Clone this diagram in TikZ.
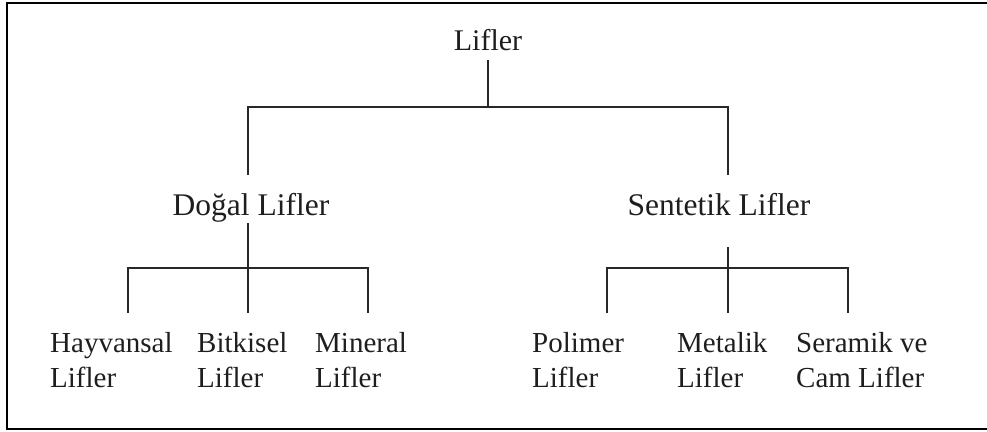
\documentclass[tikz,border=0pt]{standalone}
\usepackage{fontspec}
\setmainfont{Liberation Serif}
\definecolor{linegray}{RGB}{40, 40, 40}
\definecolor{textgray}{RGB}{30, 30, 30}
\tikzset{
    rootlabel/.style={anchor=base, inner sep=0pt, text=textgray,
        font=\fontsize{30}{36}\selectfont},
    midlabel/.style={anchor=base, inner sep=0pt, text=textgray,
        font=\fontsize{31.5}{38}\selectfont},
    leaflabel/.style={anchor=north west, inner sep=0pt, align=left,
        text=textgray, font=\fontsize{29}{35}\selectfont},
    treeline/.style={draw=linegray, line width=1.3pt},
}

\begin{document}
\begin{tikzpicture}[x=1pt, y=-1pt]
    \useasboundingbox (0, 0) rectangle (987, 431);
    \draw[line width=2pt] (7, 3) rectangle (989, 429);

    \node[rootlabel] (lifler) at (488, 50) {Lifler};
    \node[midlabel] (dogal) at (251, 215) {Doğal Lifler};
    \node[midlabel] (sentetik) at (719, 215) {Sentetik Lifler};

    \node[leaflabel] (hayvansal) at (50, 332) {Hayvansal\\Lifler};
    \node[leaflabel] (bitkisel) at (197, 332) {Bitkisel\\Lifler};
    \node[leaflabel] (mineral) at (315, 332) {Mineral\\Lifler};
    \node[leaflabel] (polimer) at (532, 332) {Polimer\\Lifler};
    \node[leaflabel] (metalik) at (677, 332) {Metalik\\Lifler};
    \node[leaflabel] (seramik) at (796, 332) {Seramik ve\\Cam Lifler};

    % line ends next to the labels
    \coordinate (lifler-out) at ([yshift=-10pt]lifler.base);
    \coordinate (top-bus) at ([yshift=-57pt]lifler.base);
    \coordinate (dogal-in) at ([xshift=-3pt, yshift=40pt]dogal.base);
    \coordinate (dogal-out) at ([xshift=-3pt, yshift=-8pt]dogal.base);
    \coordinate (dogal-bus) at ([yshift=-45pt]dogal-out);
    \coordinate (sentetik-in) at ([xshift=9pt, yshift=40pt]sentetik.base);
    \coordinate (sentetik-out) at ([xshift=9pt, yshift=-32pt]sentetik.base);
    \coordinate (sentetik-bus) at ([yshift=-21pt]sentetik-out);
    \coordinate (hayvansal-in) at (128, 313);
    \coordinate (bitkisel-in) at (248, 313);
    \coordinate (mineral-in) at (368, 313);
    \coordinate (polimer-in) at (607, 313);
    \coordinate (metalik-in) at (728, 313);
    \coordinate (seramik-in) at (848, 313);

    \draw[treeline] (lifler-out) -- (top-bus -| lifler-out) -| (dogal-in);
    \draw[treeline] (top-bus -| lifler-out) -| (sentetik-in);
    \draw[treeline] (dogal-out) -- (dogal-bus);
    \draw[treeline] (sentetik-out) -- (sentetik-bus);
    \foreach \leaf in {hayvansal, bitkisel, mineral}
        \draw[treeline] (dogal-bus) -| (\leaf-in);
    \foreach \leaf in {polimer, metalik, seramik}
        \draw[treeline] (sentetik-bus) -| (\leaf-in);
\end{tikzpicture}
\end{document}
